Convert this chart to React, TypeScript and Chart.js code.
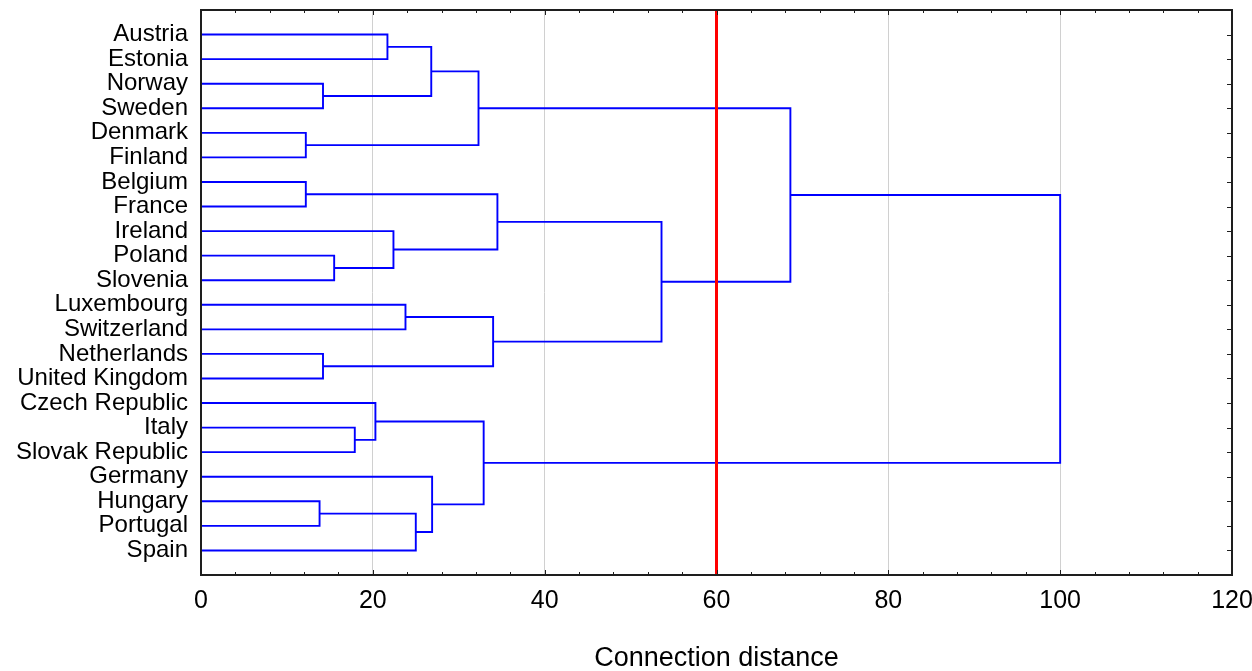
import React, { useEffect, useRef } from "react";
import { Chart, registerables } from "chart.js";

Chart.register(...registerables);

// Leaves, top to bottom
const countries = [
  "Austria", "Estonia", "Norway", "Sweden", "Denmark", "Finland",
  "Belgium", "France", "Ireland", "Poland", "Slovenia", "Luxembourg",
  "Switzerland", "Netherlands", "United Kingdom", "Czech Republic", "Italy",
  "Slovak Republic", "Germany", "Hungary", "Portugal", "Spain",
];

// Linkage: merge i creates node 22 + i from (mergeLeft[i], mergeRight[i]) at mergeDistance[i]
const mergeLeft = [0, 2, 4, 22, 25, 6, 9, 8, 27, 11, 13, 31, 30, 26, 16, 15, 19, 38, 18, 37, 35];
const mergeRight = [1, 3, 5, 23, 24, 7, 10, 28, 29, 12, 14, 32, 33, 34, 17, 36, 20, 21, 39, 40, 41];
const mergeDistance = [
  21.7, 14.2, 12.2, 26.8, 32.3, 12.2, 15.5, 22.4, 34.5, 23.8, 14.2, 34.0,
  53.6, 68.6, 17.9, 20.3, 13.8, 25.0, 26.9, 32.9, 100,
];

const cutDistance = 60;
const xMin = 0;
const xMax = 120;
const xMajorStep = 20;
const xMinorStep = 4;
const axisTitle = "Connection distance";

const FONT = "'Liberation Sans', Arial, Helvetica, sans-serif";

function buildSegments() {
  const n = countries.length;
  const posY: number[] = countries.map((_, i) => i + 1);
  const height: number[] = countries.map(() => 0);
  const segs: { x: number; y: number }[][] = [];
  mergeLeft.forEach((a, i) => {
    const b = mergeRight[i];
    const d = mergeDistance[i];
    segs.push([
      { x: height[a], y: posY[a] },
      { x: d, y: posY[a] },
      { x: d, y: posY[b] },
      { x: height[b], y: posY[b] },
    ]);
    posY[n + i] = (posY[a] + posY[b]) / 2;
    height[n + i] = d;
  });
  return segs;
}

const framePlugin = {
  id: "frame",
  afterDatasetsDraw(chart: any) {
    const { ctx, chartArea: a, scales } = chart;
    const x = scales.x;
    const y = scales.y;
    ctx.save();
    ctx.strokeStyle = "#1e1e1e";
    ctx.lineWidth = 1;
    const line = (x1: number, y1: number, x2: number, y2: number) => {
      ctx.beginPath();
      ctx.moveTo(x1, y1);
      ctx.lineTo(x2, y2);
      ctx.stroke();
    };
    for (let v = xMin; v <= xMax; v += xMinorStep) {
      const px = Math.round(x.getPixelForValue(v)) + 0.5;
      const len = v % xMajorStep === 0 ? 5 : 3;
      line(px, a.top, px, a.top + len);
      line(px, a.bottom, px, a.bottom - len);
    }
    for (let i = 1; i <= countries.length; i++) {
      const py = Math.round(y.getPixelForValue(i)) + 0.5;
      line(a.right, py, a.right - 5, py);
    }
    ctx.lineWidth = 2;
    ctx.strokeRect(a.left, a.top, a.right - a.left, a.bottom - a.top);
    ctx.restore();
  },
};

export default function App() {
  const ref = useRef<HTMLCanvasElement | null>(null);

  useEffect(() => {
    if (!ref.current) return;
    const segs = buildSegments();
    const datasets: any[] = [
      {
        data: [
          { x: cutDistance, y: 0 },
          { x: cutDistance, y: countries.length + 1 },
        ],
        showLine: true,
        borderColor: "#ff0000",
        borderWidth: 3,
        pointRadius: 0,
        order: 0,
      },
      ...segs.map((s) => ({
        data: s,
        showLine: true,
        borderColor: "#0000ff",
        borderWidth: 1.9,
        pointRadius: 0,
        borderJoinStyle: "miter",
        order: 1,
      })),
    ];

    const chart = new Chart(ref.current, {
      type: "scatter",
      data: { datasets },
      plugins: [framePlugin],
      options: {
        animation: false,
        responsive: true,
        maintainAspectRatio: false,
        layout: { padding: { top: 10, right: 20, left: 0, bottom: 0 } },
        plugins: { legend: { display: false }, tooltip: { enabled: false } },
        scales: {
          x: {
            type: "linear",
            min: xMin,
            max: xMax,
            position: "bottom",
            afterBuildTicks: (s: any) => {
              const t = [];
              for (let v = xMin; v <= xMax; v += xMinorStep) t.push({ value: v });
              s.ticks = t;
            },
            afterFit: (s: any) => {
              s.height = 96;
              s.paddingLeft = 0;
              s.paddingRight = 0;
            },
            ticks: {
              autoSkip: false,
              maxRotation: 0,
              padding: 11,
              color: "#000",
              font: { family: FONT, size: 25 },
              callback: (v: any) => (Number(v) % xMajorStep === 0 ? String(v) : ""),
            },
            grid: {
              drawTicks: false,
              lineWidth: 1,
              color: (c: any) => {
                const v = c.tick ? c.tick.value : NaN;
                return v % xMajorStep === 0 && v > xMin && v < xMax ? "#d0d0d0" : "rgba(0,0,0,0)";
              },
            },
            border: { display: false },
            title: {
              display: true,
              text: axisTitle,
              color: "#000",
              font: { family: FONT, size: 27 },
              padding: { top: 0, bottom: -4 },
            },
          },
          y: {
            type: "linear",
            min: 0,
            max: countries.length + 1,
            reverse: true,
            afterBuildTicks: (s: any) => {
              s.ticks = countries.map((_, i) => ({ value: i + 1 }));
            },
            afterFit: (s: any) => {
              s.width = 201;
              s.paddingTop = 0;
              s.paddingBottom = 0;
            },
            ticks: {
              autoSkip: false,
              padding: 13,
              color: "#000",
              font: { family: FONT, size: 24 },
              callback: (v: any) => countries[Number(v) - 1] ?? "",
            },
            grid: { display: false, drawTicks: false },
            border: { display: false },
          },
        },
      },
    } as any);
    return () => chart.destroy();
  }, []);

  return (
    <div style={{ position: "absolute", left: 0, top: 0, width: 1252, height: 671, background: "#fff" }}>
      <canvas ref={ref} />
    </div>
  );
}
